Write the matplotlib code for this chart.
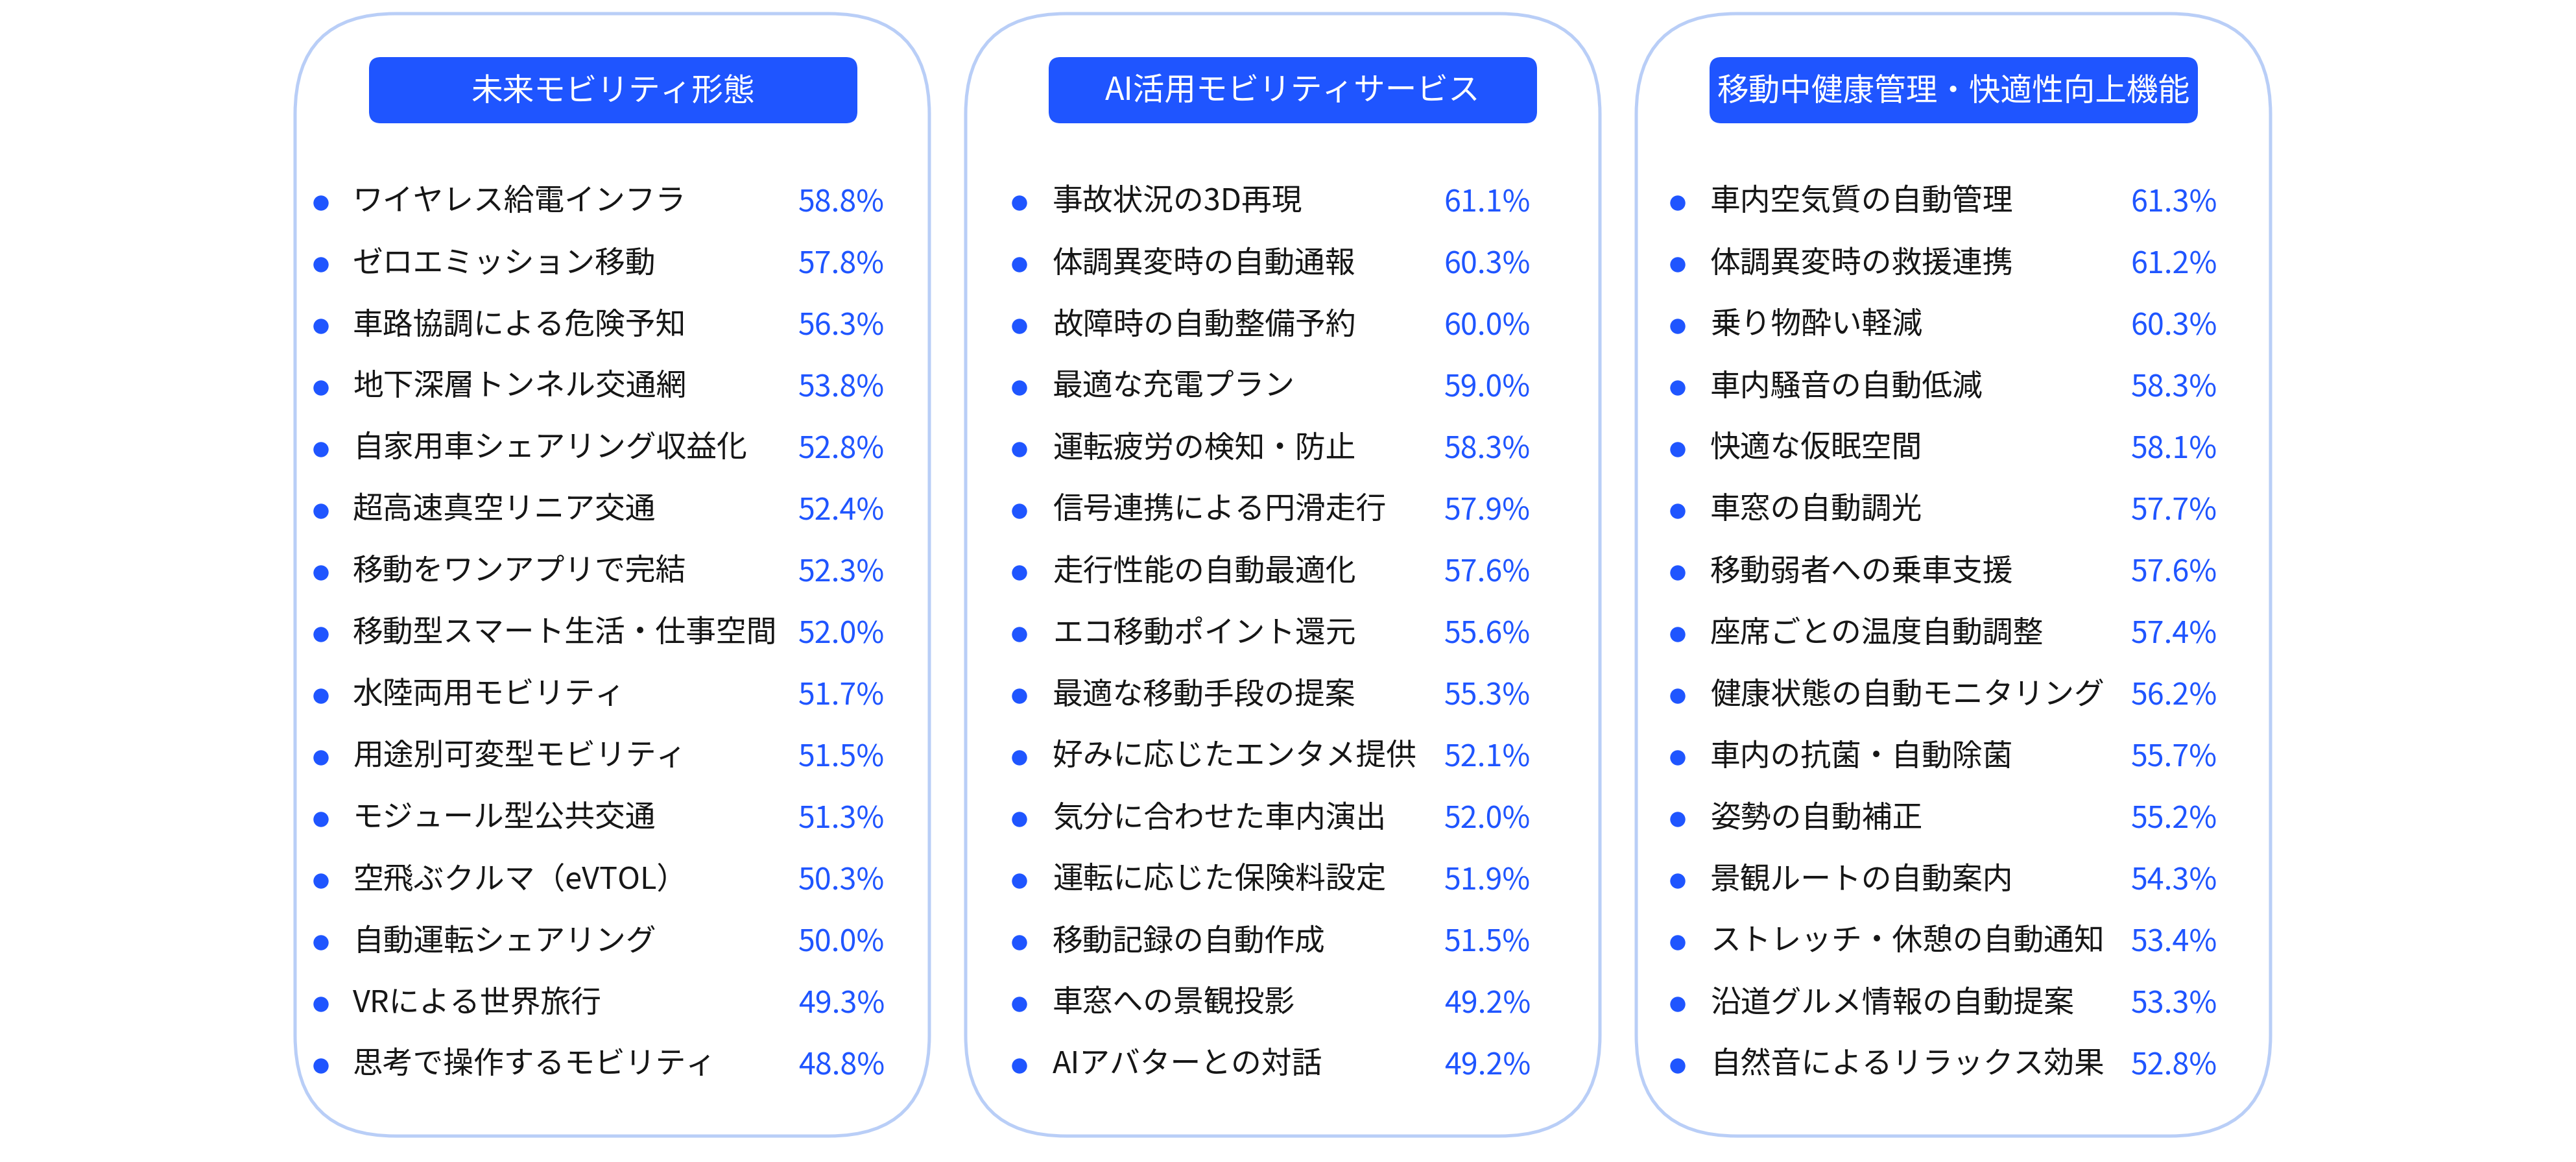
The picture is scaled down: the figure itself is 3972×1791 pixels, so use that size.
import matplotlib.pyplot as plt
from matplotlib.patches import FancyBboxPatch, Circle

plt.rcParams['font.family'] = ['Noto Sans CJK JP', 'DejaVu Sans']

# データ
titles = ['未来モビリティ形態', 'AI活用モビリティサービス', '移動中健康管理・快適性向上機能']

items1 = ['ワイヤレス給電インフラ', 'ゼロエミッション移動', '車路協調による危険予知',
          '地下深層トンネル交通網', '自家用車シェアリング収益化', '超高速真空リニア交通',
          '移動をワンアプリで完結', '移動型スマート生活・仕事空間', '水陸両用モビリティ',
          '用途別可変型モビリティ', 'モジュール型公共交通', '空飛ぶクルマ（eVTOL）',
          '自動運転シェアリング', 'VRによる世界旅行', '思考で操作するモビリティ']
values1 = [58.8, 57.8, 56.3, 53.8, 52.8, 52.4, 52.3, 52.0, 51.7, 51.5, 51.3, 50.3, 50.0, 49.3, 48.8]

items2 = ['事故状況の3D再現', '体調異変時の自動通報', '故障時の自動整備予約',
          '最適な充電プラン', '運転疲労の検知・防止', '信号連携による円滑走行',
          '走行性能の自動最適化', 'エコ移動ポイント還元', '最適な移動手段の提案',
          '好みに応じたエンタメ提供', '気分に合わせた車内演出', '運転に応じた保険料設定',
          '移動記録の自動作成', '車窓への景観投影', 'AIアバターとの対話']
values2 = [61.1, 60.3, 60.0, 59.0, 58.3, 57.9, 57.6, 55.6, 55.3, 52.1, 52.0, 51.9, 51.5, 49.2, 49.2]

items3 = ['車内空気質の自動管理', '体調異変時の救援連携', '乗り物酔い軽減',
          '車内騒音の自動低減', '快適な仮眠空間', '車窓の自動調光',
          '移動弱者への乗車支援', '座席ごとの温度自動調整', '健康状態の自動モニタリング',
          '車内の抗菌・自動除菌', '姿勢の自動補正', '景観ルートの自動案内',
          'ストレッチ・休憩の自動通知', '沿道グルメ情報の自動提案', '自然音によるリラックス効果']
values3 = [61.3, 61.2, 60.3, 58.3, 58.1, 57.7, 57.6, 57.4, 56.2, 55.7, 55.2, 54.3, 53.4, 53.3, 52.8]

all_items = [items1, items2, items3]
all_values = [values1, values2, values3]

# レイアウト（ピクセル単位）
W, H = 3973, 1791
blue = '#1f55ff'
border = '#b9cef7'
panel_left = [455, 1489, 2523]
panel_w = 978
panel_top, panel_bottom = 21, 1751
head_left = [569, 1617, 2636]
head_w = 753
head_top, head_bottom = 88, 190
bullet_dx = [40, 83, 64]
text_dx = [89, 134, 114]
pct_dx = [909, 871, 896]
row0, row_step = 311, 95

fig = plt.figure(figsize=(W / 100, H / 100), dpi=100)
ax = fig.add_axes([0, 0, 1, 1])
ax.set_xlim(0, W)
ax.set_ylim(H, 0)
ax.axis('off')

for p in range(3):
    x0 = panel_left[p]
    # 外枠
    ax.add_patch(FancyBboxPatch((x0, panel_top), panel_w, panel_bottom - panel_top,
                                boxstyle='round,pad=0,rounding_size=155',
                                facecolor='white', edgecolor=border, linewidth=3.6))
    # 見出し
    ax.add_patch(FancyBboxPatch((head_left[p], head_top), head_w, head_bottom - head_top,
                                boxstyle='round,pad=0,rounding_size=18',
                                facecolor=blue, edgecolor='none'))
    ax.text(head_left[p] + head_w / 2, (head_top + head_bottom) / 2 + 2, titles[p],
            color='white', fontsize=35, ha='center', va='center')
    # 項目
    for i, (name, v) in enumerate(zip(all_items[p], all_values[p])):
        y = row0 + i * row_step
        ax.add_patch(Circle((x0 + bullet_dx[p], y + 2), 11, color=blue))
        ax.text(x0 + text_dx[p], y, name, color='#161616', fontsize=33.7,
                ha='left', va='center')
        ax.text(x0 + pct_dx[p], y + 2, f'{v:.1f}%', color=blue, fontsize=33.5,
                ha='right', va='center')

fig.savefig('out.png', dpi=100, facecolor='white')
